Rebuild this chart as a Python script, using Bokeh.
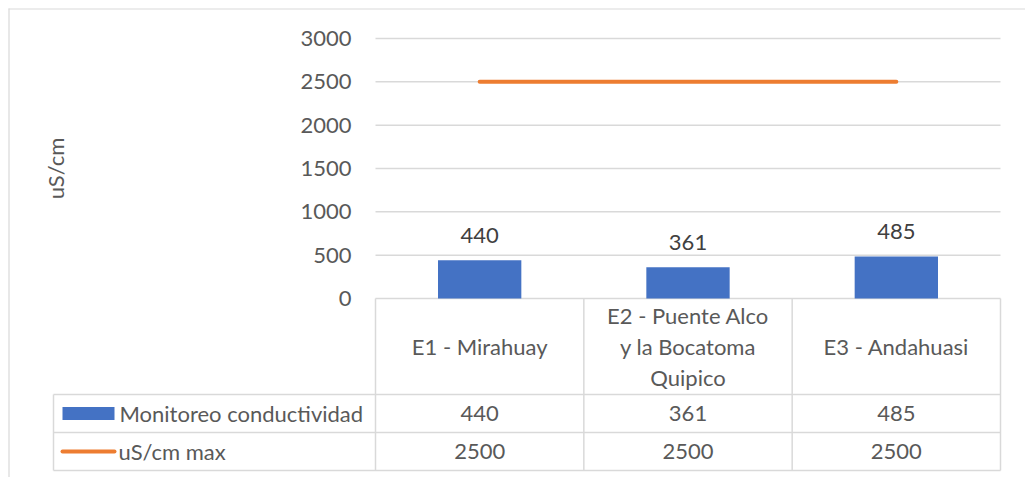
import textwrap
from bokeh.plotting import figure
from bokeh.models import Range1d, LinearAxis, FixedTicker
from bokeh.core.properties import value
from bokeh.embed import file_html
from bokeh.resources import INLINE

# ---- data ----
categories = ["E1 - Mirahuay", "E2 - Puente Alco y la Bocatoma Quipico", "E3 - Andahuasi"]
conductividad = [440, 361, 485]
limite = [2500, 2500, 2500]
series_names = ["Monitoreo conductividad", "uS/cm max"]
y_ticks = [0, 500, 1000, 1500, 2000, 2500, 3000]
y_label = "uS/cm"

# ---- layout (canvas pixels) ----
W, H = 1025, 477
L, R, T, B = 375, 1000, 38, 298        # plot area
ROW_BOTTOMS = [394, 432, 470]          # table row bottoms
LEG_L = 53                             # legend column left edge
EDGE = 8                               # outer chart border

FONT = value("Lato")
FS = "22px"
TXT = "#595959"
GRID = "#d9d9d9"

n = len(categories)
ymax = y_ticks[-1]
ux = n / (R - L)
uy = ymax / (B - T)


def dx(px):
    return (px - L) * ux


def dy(py):
    return (B - py) * uy


p = figure(width=W, height=H,
           x_range=Range1d(dx(0), dx(W)), y_range=Range1d(dy(H), dy(0)),
           x_axis_type=None, y_axis_type=None,
           toolbar_location=None, output_backend="svg",
           min_border=0, outline_line_color=None,
           background_fill_color="white", border_fill_color="white")

# outer chart border (left + top)
p.segment(x0=dx(EDGE + 0.5), x1=dx(EDGE + 0.5), y0=dy(EDGE), y1=dy(H), line_color=GRID, line_width=1.2)
p.segment(x0=dx(EDGE), x1=dx(W), y0=dy(EDGE + 0.5), y1=dy(EDGE + 0.5), line_color=GRID, line_width=1.2)

# gridlines
p.segment(x0=0, x1=n, y0=y_ticks, y1=y_ticks, line_color=GRID, line_width=1.5)

xs = [i + 0.5 for i in range(n)]

# bars and line
p.vbar(x=xs, top=conductividad, bottom=0, width=0.4, fill_color="#4472C4", line_color=None)
p.line(x=xs, y=limite, line_color="#ED7D31", line_width=4, line_cap="round")

# data labels
p.text(x=xs, y=conductividad, text=[str(v) for v in conductividad],
       text_align="center", text_baseline="bottom", y_offset=-17,
       text_font=FONT, text_font_size=FS, text_color="#404040")

# y axis
yaxis = LinearAxis(fixed_location=0, ticker=FixedTicker(ticks=y_ticks),
                   bounds=(0, ymax), axis_label=y_label)
yaxis.axis_line_color = None
yaxis.major_tick_line_color = None
yaxis.minor_tick_line_color = None
yaxis.major_tick_out = 0
yaxis.major_tick_in = 0
yaxis.major_label_standoff = 24
yaxis.major_label_text_font = "Lato"
yaxis.major_label_text_font_size = FS
yaxis.major_label_text_color = TXT
yaxis.axis_label_text_font = "Lato"
yaxis.axis_label_text_font_size = FS
yaxis.axis_label_text_font_style = "normal"
yaxis.axis_label_text_color = TXT
yaxis.axis_label_standoff = 228
p.add_layout(yaxis, "left")

# ---- data table ----
row_y = [dy(b) for b in ROW_BOTTOMS]
x_left = dx(LEG_L)
# horizontal lines
p.segment(x0=x_left, x1=n, y0=row_y, y1=row_y, line_color=GRID, line_width=1.5)
# vertical lines of category columns
col_x = list(range(n + 1))
p.segment(x0=col_x, x1=col_x, y0=0, y1=row_y[-1], line_color=GRID, line_width=1.5)
# legend column left edge
p.segment(x0=x_left, x1=x_left, y0=row_y[0], y1=row_y[-1], line_color=GRID, line_width=1.5)

cat_center = dy((B + ROW_BOTTOMS[0]) / 2)
r1_center = dy((ROW_BOTTOMS[0] + ROW_BOTTOMS[1]) / 2)
r2_center = dy((ROW_BOTTOMS[1] + ROW_BOTTOMS[2]) / 2)

wrapped = ["\n".join(textwrap.wrap(c, 16)) for c in categories]
p.text(x=xs, y=[cat_center] * n, text=wrapped, text_align="center", text_baseline="middle",
       text_line_height=1.13, text_font=FONT, text_font_size=FS, text_color=TXT)
p.text(x=xs, y=[r1_center] * n, text=[str(v) for v in conductividad], text_align="center",
       text_baseline="middle", text_font=FONT, text_font_size=FS, text_color=TXT)
p.text(x=xs, y=[r2_center] * n, text=[str(v) for v in limite], text_align="center",
       text_baseline="middle", text_font=FONT, text_font_size=FS, text_color=TXT)

# legend keys in the table
p.rect(x=[dx(88)], y=[r1_center], width=52, height=13, width_units="screen",
       height_units="screen", fill_color="#4472C4", line_color=None)
p.segment(x0=dx(62), x1=dx(114), y0=r2_center, y1=r2_center, line_color="#ED7D31",
          line_width=4, line_cap="round")
p.text(x=[dx(119), dx(118)], y=[r1_center, r2_center], text=series_names,
       text_align="left", text_baseline="middle", text_font=FONT, text_font_size=FS,
       text_color=TXT)

open("out.html", "w").write(file_html(p, INLINE))
